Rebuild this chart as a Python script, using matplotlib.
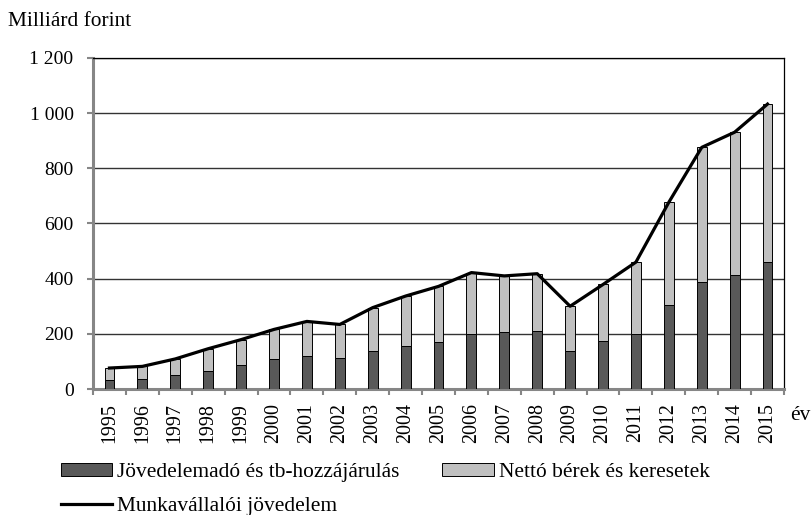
import numpy as np
import matplotlib.pyplot as plt
from matplotlib.lines import Line2D
from matplotlib.patches import Patch

plt.rcParams['font.family'] = ['Liberation Serif', 'DejaVu Serif']

years = ['1995', '1996', '1997', '1998', '1999', '2000', '2001', '2002', '2003', '2004',
         '2005', '2006', '2007', '2008', '2009', '2010', '2011', '2012', '2013', '2014', '2015']
# Jövedelemadó és tb-hozzájárulás
ado = [33, 38, 49, 66, 88, 107, 121, 113, 137, 155, 169, 200, 205, 211, 139, 173, 200, 304, 387, 412, 459]
# Munkavállalói jövedelem (total)
osszes = [76, 82, 109, 146, 179, 216, 245, 234, 295, 337, 372, 422, 410, 418, 300, 379, 460, 677, 876, 931, 1033]
# Nettó bérek és keresetek
netto = [t - a for t, a in zip(osszes, ado)]

yticks = [0, 200, 400, 600, 800, 1000, 1200]
ylabels = ['0', '200', '400', '600', '800', '1 000', '1 200']

fig = plt.figure(figsize=(8.11, 5.15), dpi=100)
ax = fig.add_axes([93/811, 1 - 389/515, (784 - 93)/811, (389 - 58)/515])

x = np.arange(len(years))
w = 0.3
ax.bar(x, ado, w, color='#595959', edgecolor='black', linewidth=0.7, zorder=3)
ax.bar(x, netto, w, bottom=ado, color='#c0c0c0', edgecolor='black', linewidth=0.7, zorder=3)
ax.plot(x, osszes, color='black', linewidth=2.3, zorder=4, solid_joinstyle='round')

ax.set_xlim(-0.5, len(years) - 0.5)
ax.set_ylim(0, 1200)
ax.set_yticks(yticks)
ax.set_yticklabels(ylabels, fontsize=14)
ax.yaxis.grid(True, color='#333333', linewidth=1.0, zorder=0)

ax.set_xticks(x)
ax.set_xticklabels(years, rotation=90, fontsize=14.4, va='top')
ax.tick_params(axis='x', which='major', length=0, pad=10)
ax.set_xticks(np.arange(len(years) + 1) - 0.5, minor=True)
ax.tick_params(axis='x', which='minor', length=4.5, width=1.5, color='#868686')
ax.tick_params(axis='y', length=4.5, width=1.5, color='#868686', pad=9.5)

for s in ['left', 'bottom']:
    ax.spines[s].set_color('#868686')
    ax.spines[s].set_linewidth(2.2)
for s in ['top', 'right']:
    ax.spines[s].set_color('black')
    ax.spines[s].set_linewidth(0.9)

fig.text(8/811, 1 - 22/515, 'Milliárd forint', fontsize=15.4, va='center', ha='left')
fig.text(790/811, 1 - 416/515, 'év', fontsize=15.4, va='center', ha='left')

handles = [Patch(facecolor='#595959', edgecolor='black', linewidth=0.7),
           Line2D([], [], color='black', linewidth=2.3),
           Patch(facecolor='#c0c0c0', edgecolor='black', linewidth=0.7)]
labels = ['Jövedelemadó és tb-hozzájárulás', 'Munkavállalói jövedelem', 'Nettó bérek és keresetek']
fig.legend(handles, labels, ncol=2, loc='upper left', bbox_to_anchor=(61/811, 1 - 463/515),
           frameon=False, fontsize=15.4, handlelength=2.4, handleheight=0.55,
           handletextpad=0.23, columnspacing=2.0, labelspacing=0.7, borderaxespad=0,
           borderpad=0)

fig.savefig('out.png', dpi=100)
